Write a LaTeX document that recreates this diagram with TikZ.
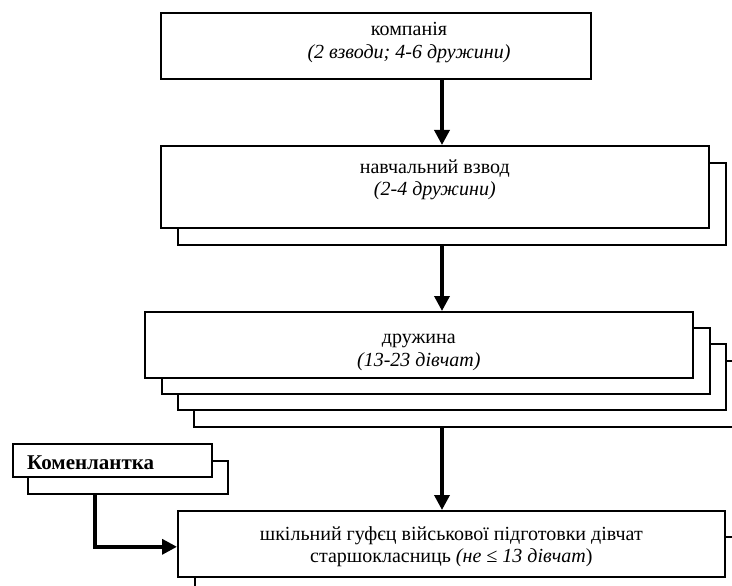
\documentclass[tikz,border=0pt]{standalone}
\usepackage{fontspec}
\setmainfont{Liberation Serif}
\usetikzlibrary{arrows.meta}
\begin{document}
\begin{tikzpicture}[x=1pt,y=-1pt,
  box/.style={draw, line width=1.6pt, fill=white, minimum width=548pt, minimum height=66pt, inner sep=0pt, anchor=north west},
  txt/.style={font=\fontsize{20}{22}\selectfont, inner sep=0pt, anchor=base},
  ktxt/.style={font=\fontsize{21}{23}\selectfont\bfseries, inner sep=0pt, anchor=base west},
  arr/.style={line width=3.5pt, -{Triangle[length=15pt,width=15pt]}}
]
\useasboundingbox (0,0) rectangle (732,586);
\clip (0,0) rectangle (732,586);
\coordinate (ax) at (442,0);
\coordinate (kx) at (95,0);
\coordinate (tx1) at (409,0);
% box 1
\node[box, minimum width=430pt] (b1) at (160,12) {};
\node[txt] (t1a) at ([yshift=-24pt]b1.north -| tx1) {компанія};
\node[txt] (t1b) at ([yshift=-47pt]b1.north -| tx1) {\itshape (2 взводи; 4-6 дружини)};
% box 2
\node[box, minimum height=82pt] (b2s) at (177,162) {};
\node[box, minimum height=82pt] (b2) at (160,145) {};
\node[txt] (t2a) at ([yshift=-28pt]b2.north) {навчальний взвод};
\node[txt] (t2b) at ([yshift=-50pt]b2.north) {\itshape (2-4 дружини)};
% box 3
\node[box] (b3d) at (193,360) {};
\node[box] (b3c) at (177,343) {};
\node[box] (b3b) at (161,327) {};
\node[box] (b3) at (144,311) {};
\node[txt] (t3a) at ([yshift=-32pt]b3.north) {дружина};
\node[txt] (t3b) at ([yshift=-55pt]b3.north) {\itshape (13-23 дівчат)};
% box 4
\node[box] (b4s) at (194,536) {};
\node[box, minimum width=547pt] (b4) at (177,510) {};
\node[txt] (t4a) at ([yshift=-30pt]b4.north) {шкільний гуфєц військової підготовки дівчат};
\node[txt] (t4b) at ([yshift=-52pt]b4.north) {старшокласниць \textit{(не ≤ 13 дівчат})};
% komendantka
\node[box, minimum width=200pt, minimum height=33pt] (ks) at (27,460) {};
\node[box, minimum width=199pt, minimum height=33pt] (k) at (12,443) {};
\node[ktxt] (kt) at (27,469) {Коменлантка};
% arrows
\draw[arr] (b1.south -| ax) -- (b2.north -| ax);
\draw[arr] (b2s.south -| ax) -- (b3.north -| ax);
\draw[arr] (b3d.south -| ax) -- (b4.north -| ax);
\draw[arr] (ks.south -| kx) |- ([yshift=-3pt]b4.west);
\end{tikzpicture}
\end{document}
